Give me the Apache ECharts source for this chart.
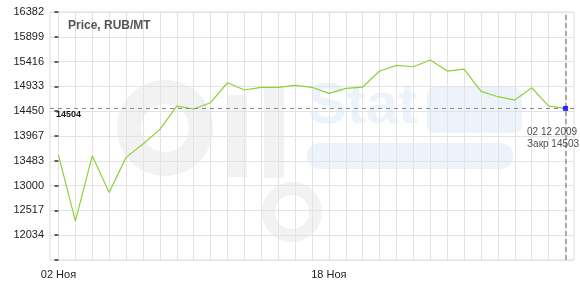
<!DOCTYPE html>
<html>
<head>
<meta charset="utf-8">
<script src="https://cdn.jsdelivr.net/npm/echarts@6/dist/echarts.min.js"></script>
<style>html,body{margin:0;padding:0;background:#fff}#c{width:580px;height:284px}</style>
</head>
<body>
<div id="c"></div>
<script>
// ---- data ----
var dates = ['02 Ноя','03 Ноя','04 Ноя','05 Ноя','06 Ноя','07 Ноя','08 Ноя','09 Ноя','10 Ноя','11 Ноя',
             '12 Ноя','13 Ноя','14 Ноя','15 Ноя','16 Ноя','17 Ноя','18 Ноя','19 Ноя','20 Ноя','21 Ноя',
             '22 Ноя','23 Ноя','24 Ноя','25 Ноя','26 Ноя','27 Ноя','28 Ноя','29 Ноя','30 Ноя','01 Дек','02 Дек'];
var prices = [13600, 12310, 13580, 12865, 13550, 13810, 14095, 14550, 14492, 14615,
              15004, 14862, 14915, 14915, 14953, 14915, 14797, 14895, 14920, 15232,
              15343, 15316, 15446, 15232, 15271, 14837, 14732, 14667, 14907, 14550, 14503];
var yTicks = [11551, 12034, 12517, 13000, 13483, 13967, 14450, 14933, 15416, 15899, 16382];
var xLabelDates = ['02 Ноя', '18 Ноя'];
var refLevel = 14504;
var lastDateText = '02 12 2009';
var lastCloseText = 'Закр 14503.';
var title = 'Price, RUB/MT';

// ---- chart ----
var FONT = 'Liberation Sans, Arial, sans-serif';
var xIdx = dates.map(function (d, i) { return i; });
var xLabIdx = xLabelDates.map(function (d) { return dates.indexOf(d); });
var lastI = prices.length - 1;
var lineData = prices.map(function (v, i) { return [i, v]; });

var chart = echarts.init(document.getElementById('c'), null, {renderer: 'canvas'});
chart.setOption({
  animation: false,
  backgroundColor: '#fff',
  textStyle: {fontFamily: FONT},
  title: {
    text: title, left: 63, top: 15,
    textStyle: {fontSize: 12, fontWeight: 'bold', color: '#555', fontFamily: FONT}
  },
  graphic: [
    {type: 'ring', z: -10, silent: true, shape: {cx: 165, cy: 128, r: 48, r0: 24}, style: {fill: '#f2f2f2'}},
    {type: 'rect', z: -10, silent: true, shape: {x: 227, y: 95, width: 20, height: 82}, style: {fill: '#f2f2f2'}},
    {type: 'rect', z: -10, silent: true, shape: {x: 264, y: 86, width: 20, height: 92}, style: {fill: '#f2f2f2'}},
    {type: 'ring', z: -10, silent: true, shape: {cx: 292, cy: 212, r: 30, r0: 17}, style: {fill: '#f2f2f2'}},
    {type: 'text', z: -10, silent: true, left: 308, top: 78,
      style: {text: 'Stat', fontSize: 58, fontWeight: 'bold', fill: '#edf3fa', fontFamily: FONT}},
    {type: 'rect', z: -10, silent: true, shape: {x: 427, y: 87, width: 95, height: 46, r: 8}, style: {fill: '#edf3fa'}},
    {type: 'rect', z: -10, silent: true, shape: {x: 307, y: 143, width: 206, height: 26, r: 13}, style: {fill: '#edf3fa'}}
  ],
  grid: {left: 50, right: 6, top: 12, bottom: 24, show: true, borderColor: '#dcdcdc', borderWidth: 1, containLabel: false},
  xAxis: {
    type: 'value', min: -0.5, max: lastI + 0.5,
    axisLine: {show: false},
    axisTick: {show: true, length: 0, customValues: xIdx},
    splitLine: {show: true, lineStyle: {color: '#e3e3e3', width: 1}},
    axisLabel: {
      customValues: xLabIdx, margin: 9, fontSize: 11, color: '#222', fontFamily: FONT,
      formatter: function (v) { return dates[Math.round(v)] || ''; }
    }
  },
  yAxis: {
    type: 'value', min: yTicks[0], max: yTicks[yTicks.length - 1],
    axisLine: {show: false},
    axisTick: {show: true, length: 4, inside: false, lineStyle: {color: '#333', width: 1.5}, customValues: yTicks},
    splitLine: {show: true, lineStyle: {color: '#e3e3e3', width: 1}},
    axisLabel: {
      customValues: yTicks.slice(1), margin: 6, fontSize: 11, color: '#222', fontFamily: FONT,
      formatter: function (v) { return String(Math.round(v)); }
    }
  },
  series: [
    {
      type: 'line', data: lineData, showSymbol: false, symbol: 'none',
      lineStyle: {color: '#8fd13a', width: 1.2},
      markLine: {
        silent: true, symbol: 'none',
        data: [
          {yAxis: refLevel, lineStyle: {color: '#888', type: [4, 4], width: 1},
            label: {show: true, position: 'insideStartBottom', formatter: String(refLevel), distance: [6, 2],
              fontSize: 9, fontWeight: 'bold', color: '#111', fontFamily: FONT}},
          {xAxis: lastI, lineStyle: {color: '#aaa', type: [5, 3], width: 2}, label: {show: false}}
        ]
      }
    },
    {
      type: 'scatter', data: [[lastI, prices[lastI]]], symbol: 'rect', symbolSize: 5,
      itemStyle: {color: '#0000ff'}, z: 5,
      label: {
        show: true, position: [-36, 20], align: 'left', verticalAlign: 'top',
        formatter: lastDateText + '\n' + lastCloseText, lineHeight: 12,
        fontSize: 10, color: '#222', fontFamily: FONT
      }
    }
  ]
});
</script>
</body>
</html>
